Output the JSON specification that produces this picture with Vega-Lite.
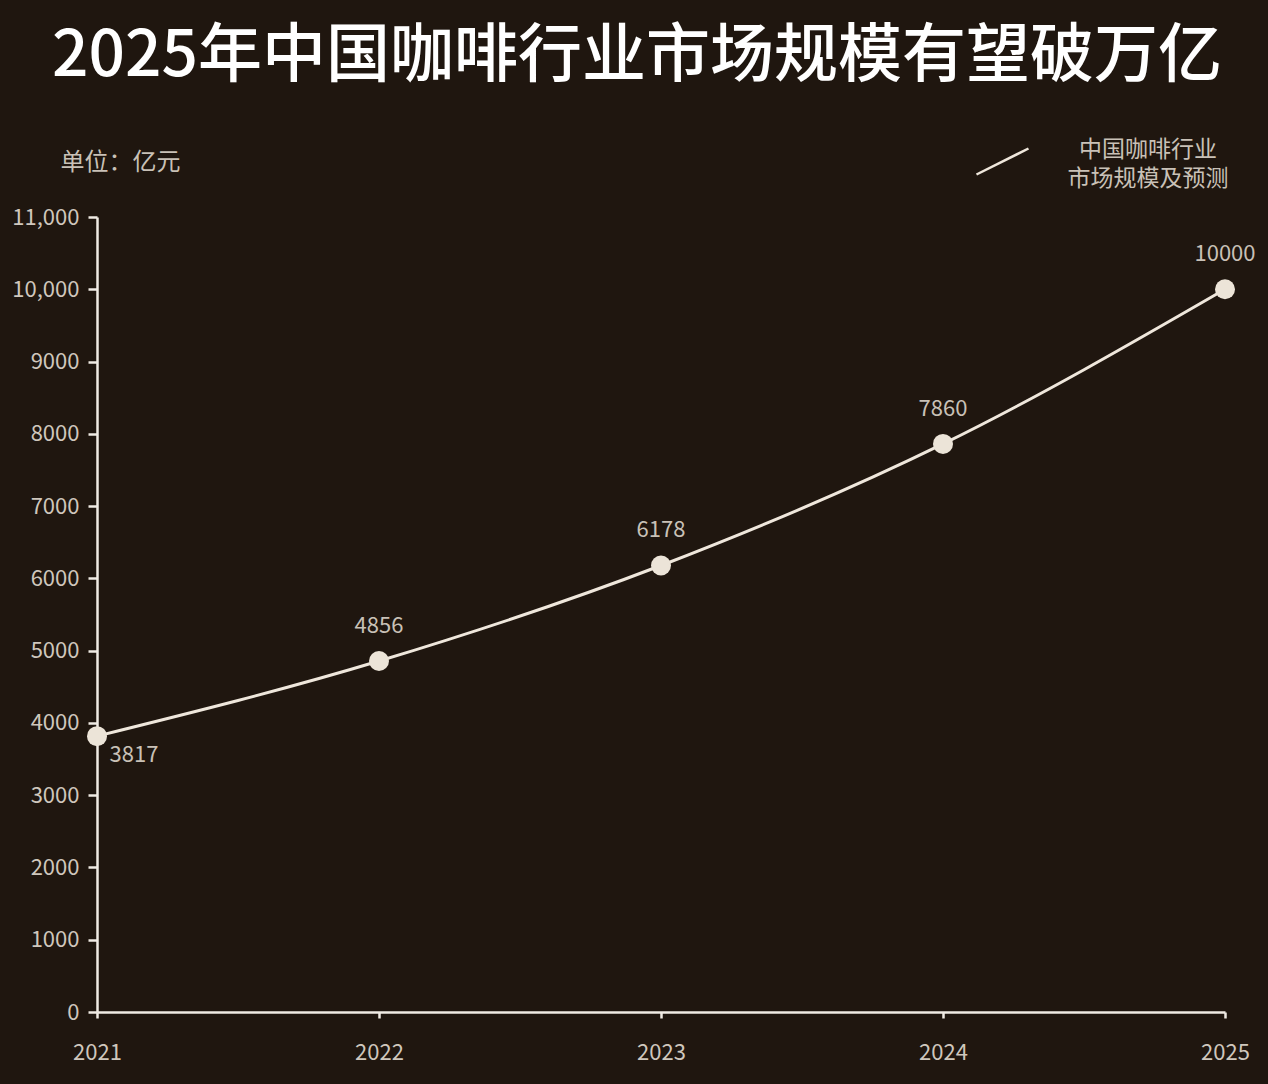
{
  "$schema": "https://vega.github.io/schema/vega-lite/v6.json",
  "width": 1128,
  "height": 795,
  "autosize": {"type": "none"},
  "padding": {"left": 97, "top": 217, "right": 43, "bottom": 72},
  "background": "#1f160f",
  "config": {
    "font": "Noto Sans CJK SC",
    "view": {"stroke": null},
    "style": {"guide-label": {"lineHeight": 29}}
  },
  "title": {
    "text": "2025年中国咖啡行业市场规模有望破万亿",
    "fontSize": 64,
    "fontWeight": 500,
    "color": "#ffffff",
    "frame": "group",
    "anchor": "middle",
    "baseline": "alphabetic",
    "offset": 67,
    "dx": -24,
    "dy": 73
  },
  "data": {
    "values": [
      {"year": "2021", "value": 3817, "series": "中国咖啡行业市场规模及预测"},
      {"year": "2022", "value": 4856, "series": "中国咖啡行业市场规模及预测"},
      {"year": "2023", "value": 6178, "series": "中国咖啡行业市场规模及预测"},
      {"year": "2024", "value": 7860, "series": "中国咖啡行业市场规模及预测"},
      {"year": "2025", "value": 10000, "series": "中国咖啡行业市场规模及预测"}
    ]
  },
  "encoding": {
    "x": {
      "field": "year",
      "type": "ordinal",
      "scale": {"type": "point", "padding": 0},
      "axis": {
        "title": null,
        "labelAngle": 0,
        "labelFontSize": 22,
        "labelColor": "#cfc7bd",
        "labelPadding": 24,
        "tickSize": 6,
        "tickWidth": 2.5,
        "tickColor": "#f0ebe4",
        "domainColor": "#f0ebe4",
        "domainWidth": 2.5,
        "grid": false
      }
    },
    "y": {
      "field": "value",
      "type": "quantitative",
      "scale": {"domain": [0, 11000], "nice": false},
      "axis": {
        "title": "单位：亿元",
        "titleAngle": 0,
        "titleAlign": "center",
        "titleBaseline": "middle",
        "titleX": 23,
        "titleY": -55,
        "titleFontSize": 24,
        "titleFontWeight": "normal",
        "titleColor": "#c9c1b7",
        "values": [0, 1000, 2000, 3000, 4000, 5000, 6000, 7000, 8000, 9000, 10000, 11000],
        "labelExpr": "datum.value >= 10000 ? format(datum.value, ',') : format(datum.value, 'd')",
        "labelFontSize": 22,
        "labelColor": "#cfc7bd",
        "labelPadding": 9,
        "tickSize": 9,
        "tickWidth": 2.5,
        "tickColor": "#f0ebe4",
        "domainColor": "#f0ebe4",
        "domainWidth": 2.5,
        "grid": false
      }
    }
  },
  "layer": [
    {
      "mark": {"type": "line", "interpolate": "monotone", "strokeWidth": 3},
      "encoding": {
        "color": {
          "field": "series",
          "type": "nominal",
          "scale": {"range": ["#efe7dc"]},
          "legend": {
            "title": null,
            "orient": "none",
            "legendX": 878,
            "legendY": -83,
            "symbolType": "M-1,0.5L1,-0.5",
            "symbolSize": 2704,
            "symbolStrokeWidth": 2.5,
            "symbolStrokeColor": "#efe7dc",
            "labelExpr": "['中国咖啡行业', '市场规模及预测']",
            "labelAlign": "center",
            "labelBaseline": "bottom",
            "labelOffset": 118,
            "labelFontSize": 23,
            "labelColor": "#c9c1b7",
            "labelLimit": 400
          }
        }
      }
    },
    {
      "mark": {"type": "circle", "size": 400, "opacity": 1, "color": "#ece4d8"}
    },
    {
      "transform": [{"filter": "datum.year != '2021'"}],
      "mark": {"type": "text", "dy": -35, "fontSize": 22, "color": "#c9c1b7"},
      "encoding": {"text": {"field": "value", "type": "quantitative", "format": "d"}}
    },
    {
      "transform": [{"filter": "datum.year == '2021'"}],
      "mark": {"type": "text", "dx": 37, "dy": 19, "fontSize": 22, "color": "#c9c1b7"},
      "encoding": {"text": {"field": "value", "type": "quantitative", "format": "d"}}
    }
  ]
}
